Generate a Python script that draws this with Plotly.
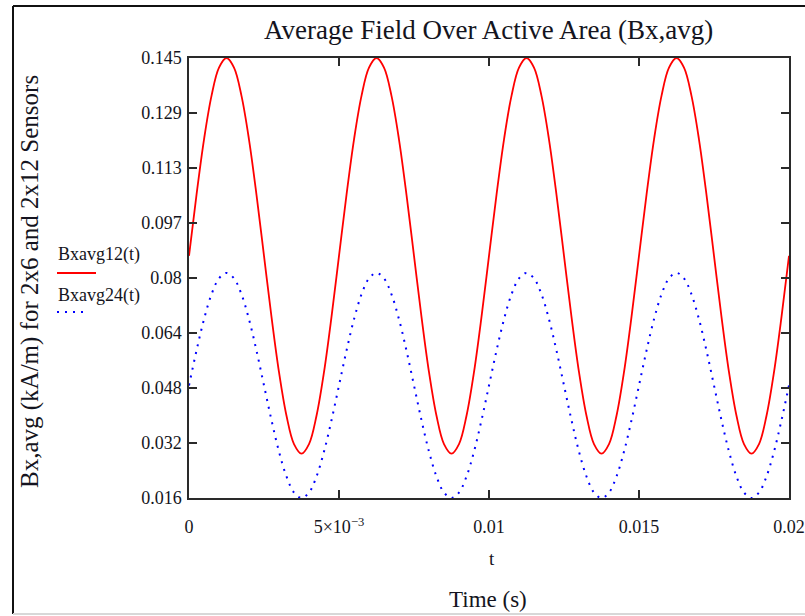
import plotly.graph_objects as go

# time samples (s)
t = [round(i * 0.00025, 5) for i in range(81)]

# values (kA/m), one period = 20 samples
bx12 = [0.087, 0.1049, 0.1211, 0.1339, 0.1422, 0.145, 0.1422, 0.1339, 0.1211, 0.1049,
        0.087, 0.0691, 0.0529, 0.0401, 0.0318, 0.029, 0.0318, 0.0401, 0.0529, 0.0691,
        0.087, 0.1049, 0.1211, 0.1339, 0.1422, 0.145, 0.1422, 0.1339, 0.1211, 0.1049,
        0.087, 0.0691, 0.0529, 0.0401, 0.0318, 0.029, 0.0318, 0.0401, 0.0529, 0.0691,
        0.087, 0.1049, 0.1211, 0.1339, 0.1422, 0.145, 0.1422, 0.1339, 0.1211, 0.1049,
        0.087, 0.0691, 0.0529, 0.0401, 0.0318, 0.029, 0.0318, 0.0401, 0.0529, 0.0691,
        0.087, 0.1049, 0.1211, 0.1339, 0.1422, 0.145, 0.1422, 0.1339, 0.1211, 0.1049,
        0.087, 0.0691, 0.0529, 0.0401, 0.0318, 0.029, 0.0318, 0.0401, 0.0529, 0.0691,
        0.087]
bx24 = [0.049, 0.0592, 0.0684, 0.0757, 0.0804, 0.082, 0.0804, 0.0757, 0.0684, 0.0592,
        0.049, 0.0388, 0.0296, 0.0223, 0.0176, 0.016, 0.0176, 0.0223, 0.0296, 0.0388,
        0.049, 0.0592, 0.0684, 0.0757, 0.0804, 0.082, 0.0804, 0.0757, 0.0684, 0.0592,
        0.049, 0.0388, 0.0296, 0.0223, 0.0176, 0.016, 0.0176, 0.0223, 0.0296, 0.0388,
        0.049, 0.0592, 0.0684, 0.0757, 0.0804, 0.082, 0.0804, 0.0757, 0.0684, 0.0592,
        0.049, 0.0388, 0.0296, 0.0223, 0.0176, 0.016, 0.0176, 0.0223, 0.0296, 0.0388,
        0.049, 0.0592, 0.0684, 0.0757, 0.0804, 0.082, 0.0804, 0.0757, 0.0684, 0.0592,
        0.049, 0.0388, 0.0296, 0.0223, 0.0176, 0.016, 0.0176, 0.0223, 0.0296, 0.0388,
        0.049]

y_min, y_max = 0.016, 0.145
y_tick_vals = [y_min + k * (y_max - y_min) / 8 for k in range(9)]
y_tick_text = ["0.016", "0.032", "0.048", "0.064", "0.08", "0.097", "0.113", "0.129", "0.145"]
x_tick_vals = [0, 0.005, 0.01, 0.015, 0.02]
x_tick_text = ["0", "5×10<sup>−3</sup>", "0.01", "0.015", "0.02"]

series_names = ["Bxavg12(t)", "Bxavg24(t)"]
FONT = "Liberation Serif, Times New Roman, serif"
INK = "#141420"

L, R, T, B = 189, 789, 58, 498
PW, PH = R - L, B - T


def px(x):
    return (x - L) / PW


def py(y):
    return (B - y) / PH


fig = go.Figure()
fig.add_trace(go.Scatter(x=t, y=bx12, mode="lines", name=series_names[0],
                         line=dict(color="#ff0000", width=1.8, shape="spline")))
fig.add_trace(go.Scatter(x=t, y=bx24, mode="lines", name=series_names[1],
                         line=dict(color="#0000ff", width=2, dash="2px,6px", shape="spline")))

axis_common = dict(showline=True, linecolor="#2a2a2a", linewidth=1.5, mirror="ticks",
                   ticks="inside", ticklen=8, tickwidth=1.5, tickcolor="#2a2a2a",
                   showgrid=False, zeroline=False, automargin=False,
                   tickfont=dict(family=FONT, size=18, color=INK))

fig.update_xaxes(range=[0, 0.02], tickvals=x_tick_vals, ticktext=x_tick_text,
                 ticklabelstandoff=12, **axis_common)
fig.update_yaxes(range=[y_min, y_max], tickvals=y_tick_vals, ticktext=y_tick_text,
                 ticklabelstandoff=2, **axis_common)

annotations = [
    dict(text="Average Field Over Active Area (Bx,avg)", x=px(488), y=py(30),
         xref="paper", yref="paper", showarrow=False, xanchor="center", yanchor="middle",
         font=dict(family=FONT, size=27, color=INK)),
    dict(text="Bx,avg (kA/m) for 2x6 and 2x12 Sensors", x=px(30), y=py(282),
         xref="paper", yref="paper", showarrow=False, textangle=-90,
         xanchor="center", yanchor="middle", font=dict(family=FONT, size=25, color=INK)),
    dict(text="t", x=px(492), y=py(558), xref="paper", yref="paper", showarrow=False,
         xanchor="center", yanchor="middle", font=dict(family=FONT, size=19, color=INK)),
    dict(text="Time (s)", x=px(488), y=py(599), xref="paper", yref="paper", showarrow=False,
         xanchor="center", yanchor="middle", font=dict(family=FONT, size=23, color=INK)),
    dict(text=series_names[0], x=px(56), y=py(254), xref="paper", yref="paper",
         showarrow=False, xanchor="left", yanchor="middle", font=dict(family=FONT, size=18, color=INK)),
    dict(text=series_names[1], x=px(56), y=py(295), xref="paper", yref="paper",
         showarrow=False, xanchor="left", yanchor="middle", font=dict(family=FONT, size=18, color=INK)),
]

shapes = [
    # outer frame (top, left) and the light bottom rule
    dict(type="line", xref="paper", yref="paper", x0=px(13), x1=px(805),
         y0=py(6), y1=py(6), line=dict(color="#111111", width=2)),
    dict(type="line", xref="paper", yref="paper", x0=px(13), x1=px(13),
         y0=py(6), y1=py(614), line=dict(color="#111111", width=2)),
    dict(type="line", xref="paper", yref="paper", x0=px(13), x1=px(805),
         y0=py(614), y1=py(614), line=dict(color="#d8d8d8", width=2)),
    # legend samples
    dict(type="line", xref="paper", yref="paper", x0=px(57), x1=px(96),
         y0=py(273), y1=py(273), line=dict(color="#ff0000", width=1.8)),
    dict(type="line", xref="paper", yref="paper", x0=px(57), x1=px(89),
         y0=py(312), y1=py(312), line=dict(color="#0000ff", width=2, dash="2px,6px")),
]

fig.update_layout(width=805, height=616, margin=dict(l=L, r=805 - R, t=T, b=616 - B),
                  paper_bgcolor="white", plot_bgcolor="white", showlegend=False,
                  annotations=annotations, shapes=shapes)

fig.write_html("out.html")
